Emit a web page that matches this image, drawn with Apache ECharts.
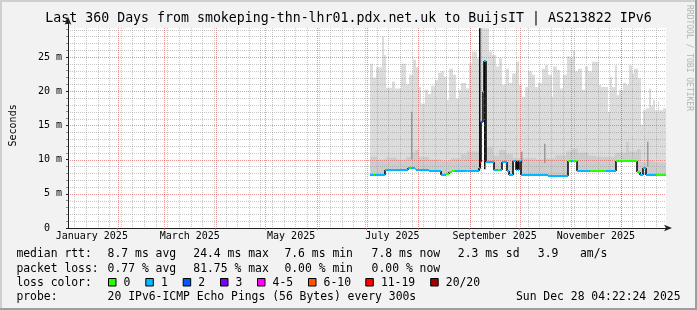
<!DOCTYPE html>
<html><head><meta charset="utf-8">
<script src="https://cdn.jsdelivr.net/npm/echarts@6/dist/echarts.min.js"></script>
<style>html,body{margin:0;padding:0;background:#f2f2f2}#c{width:697px;height:310px}</style>
</head><body><div id="c"></div>
<script>
// ---------------- data (x = days since Thu Jan 02 2025 04:22:24) ----------------
const START = Date.UTC(2025,0,2,4,22,24);
const DATA_END = 360;
const Y_TOP = 29.24;             // top of the graph canvas in ms
const labelNames = ['January 2025','March 2025','May 2025','July 2025','September 2025','November 2025'];
const labelMonth = [1,3,5,7,9,11];
const yTickMs = [0,5,10,15,20,25];

// light smoke (max of pings) : step segments
const smokeDay = [181.8,183.6,185.4,189.0,190.2,191.4,195.0,196.8,200.4,203.4,205.2,207.6,209.4,211.2,212.4,214.8,216.6,218.4,220.8,222.6,224.4,226.2,228.4,229.2,231.4,233.4,235.4,236.4,239.4,241.4,243.4,246.4,248.0,253.4,255.4,257.4,259.4,261.4,263.4,265.4,267.4,269.4,271.2,273.2,275.2,277.2,279.2,281.2,283.2,285.2,287.2,289.2,291.2,292.2,294.2,296.2,298.2,300.2,302.2,304.2,305.2,307.2,309.2,311.2,313.2,315.2,319.6,321.0,325.0,326.0,327.6,329.0,330.4,332.0,334.0,336.0,338.0,339.6,341.0,343.0,345.0,346.0,348.0,350.0,351.0,352.0,353.6,355.0,356.0,358.0];
const smokeTop = [24.0,22.0,23.5,28.0,25.3,20.5,21.4,20.4,24.0,21.0,22.4,24.6,23.5,20.6,18.2,20.2,19.6,20.8,21.6,22.7,22.9,22.1,18.7,23.3,22.4,18.9,20.2,21.2,20.4,24.1,25.8,24.8,29.2,25.8,25.3,23.6,24.8,20.9,23.3,21.2,22.6,24.3,20.9,19.2,20.6,22.9,22.4,20.6,21.2,23.3,23.8,22.4,19.2,23.6,23.1,20.4,22.4,25.1,24.8,26.0,22.9,23.3,20.2,23.6,22.9,24.3,20.9,20.6,17.0,22.1,20.6,23.8,19.4,20.2,21.2,20.9,23.8,22.6,23.3,21.9,15.1,17.2,17.5,20.4,17.9,18.7,17.2,18.5,17.2,17.5];

// denser smoke near the median
const darkDay = [181.8,186.0,191.4,198.0,203.4,206.4,208.8,211.2,217.2,224.4,230.4,236.4,240.0,247.2,252.0,255.6,259.2,263.4,267.6,272.4,273.6,282.0,287.4,293.4,300.0,303.6,307.2,313.2,318.0,329.4,336.0,337.8,342.6,345.0,349.8,352.8];
const darkTop = [10.4,10.0,10.3,10.0,10.4,11.0,11.4,10.4,10.0,9.8,10.2,10.8,11.2,11.6,11.8,10.6,11.4,10.8,10.2,10.8,10.2,10.0,10.2,10.6,11.2,11.6,11.0,10.6,10.4,11.0,12.6,11.2,11.5,9.6,9.8,9.6];

// single-column smoke spikes
const greySpikeDay = [207.3,273.3,287.4,348.9];
const greySpikeLow = [10.0,9.5,9.5,9.0];
const greySpikeHigh = [17.0,11.2,12.3,12.6];
const blackSpikeDay = [248.2,251.0];
const blackSpikeLow = [8.6,8.6];
const blackSpikeHigh = [29.2,24.4];

// median rtt (ms) with loss bucket index
const medianDay = [181.8,184.2,185.1,190.6,204.6,205.8,206.7,208.8,209.7,217.6,224.6,227.4,229.2,231.0,232.8,240.0,240.9,247.4,248.1,248.7,249.9,250.6,251.6,256.4,258.6,259.8,261.4,264.4,265.4,268.0,269.4,270.0,270.8,271.6,272.8,289.2,301.2,303.0,304.2,306.2,314.4,324.0,329.6,342.4,344.4,346.0,348.0,354.0];
const medianMs = [7.75,7.75,7.75,8.55,8.75,8.75,8.75,8.6,8.55,8.4,7.75,7.95,8.15,8.4,8.4,8.4,8.4,8.7,9.6,15.5,19.9,24.4,9.7,8.45,8.45,8.45,9.7,8.3,7.7,9.85,8.45,9.75,8.45,9.8,7.75,7.6,9.8,9.8,9.8,8.4,8.4,8.4,9.8,8.2,7.75,8.8,7.75,7.75];
const medianLoss = [1,0,1,1,1,0,1,0,1,1,1,0,0,0,1,0,1,4,6,2,1,1,1,1,0,1,1,1,1,1,1,1,1,1,1,1,0,1,0,1,0,1,0,0,1,1,1,0];

const lossColors = ['#26ff00','#00b8ff','#0059ff','#7e00ff','#ff00ff','#ff5500','#ff0000','#a10000'];
const lossLabels = ['0','1','2','3','4-5','6-10','11-19','20/20'];

// ---------------- derived ----------------
function dayOf(y,m,d){ return (Date.UTC(y,m-1,d) - START)/86400000; }
const monthStarts = [];
for (let m=2;m<=12;m++) monthStarts.push(dayOf(2025,m,1));
const weekDays = [];
for (let d=dayOf(2025,1,6); d<DATA_END; d+=7) weekDays.push(d);
const labelDays = labelMonth.map(m => (dayOf(2025,m,1)+dayOf(2025,m+1,1))/2);
// all grid lines in one list: [x0, x1, y0, y1, major?]; minors first, majors last
const gridLines = [];
for (let v=1; v<Y_TOP; v++) if (v % 5 !== 0) gridLines.push([0, DATA_END, v, v, 0]);
weekDays.forEach(d => gridLines.push([d, d, 0, Y_TOP, 0]));
for (let v=5; v<Y_TOP; v+=5) gridLines.push([0, DATA_END, v, v, 1]);
monthStarts.forEach(d => gridLines.push([d, d, 0, Y_TOP, 1]));

function stepAt(days, vals, d){ let v = vals[0]; for (let i=0;i<days.length;i++){ if (days[i] <= d) v = vals[i]; else break; } return v; }
function layer(days, tops){
  const set = new Set(days.concat(medianDay).filter(d => d >= days[0]));
  set.add(DATA_END);
  const bps = Array.from(set).sort((a,b)=>a-b);
  const out = [];
  for (let i=0;i<bps.length-1;i++){
    const a=bps[i], b=bps[i+1], mid=(a+b)/2;
    const lo = stepAt(medianDay, medianMs, mid), hi = stepAt(days, tops, mid);
    if (hi > lo) out.push([a,b,lo,hi]);
  }
  return out;
}
const lightData = layer(smokeDay, smokeTop);
const darkData = layer(darkDay, darkTop);
const medSegData = medianDay.map((d,i) => [d, i<medianDay.length-1 ? medianDay[i+1] : DATA_END, medianMs[i], medianLoss[i]]);
const medStepData = medianDay.slice(1).map((d,i) => [d, medianMs[i], medianMs[i+1]]);

const FONT = "'DejaVu Sans Mono', monospace";
const GRID_COL = ['rgba(143,143,143,0.5)', 'rgba(222,79,79,0.6)'];

function rectRender(color){
  return function(params, api){
    const p0 = api.coord([api.value(0), api.value(3)]);
    const p1 = api.coord([api.value(1), api.value(2)]);
    const x0 = Math.round(p0[0]), x1 = Math.round(p1[0]);
    return {type:'rect', shape:{x:x0, y:p0[1], width:Math.max(1,x1-x0), height:p1[1]-p0[1]}, style:{fill:color}};
  };
}
function spikeRender(color){
  return function(params, api){
    const p0 = api.coord([api.value(0), api.value(2)]);
    const p1 = api.coord([api.value(0), api.value(1)]);
    const x = Math.round(p0[0]);
    return {type:'rect', shape:{x:x-1, y:p0[1], width:1.5, height:p1[1]-p0[1]}, style:{fill:color}};
  };
}
// dotted grid drawn as a 1px-thick rect filled with a dot pattern
function dotPattern(color, horizontal){
  const c = document.createElement('canvas');
  c.width = horizontal ? 2 : 1; c.height = horizontal ? 1 : 2;
  const g = c.getContext('2d'); g.fillStyle = color; g.fillRect(0,0,1,1);
  return {image:c, repeat:'repeat'};
}
const PAT_H = [dotPattern(GRID_COL[0], true), dotPattern(GRID_COL[1], true)];
const PAT_V = [dotPattern(GRID_COL[0], false), dotPattern(GRID_COL[1], false)];
function gridRender(params, api){
  const p0 = api.coord([api.value(0), api.value(2)]);
  const p1 = api.coord([api.value(1), api.value(3)]);
  const major = api.value(4) ? 1 : 0;
  if (api.value(2) === api.value(3)) {
    const y = Math.round(p0[1]);
    const x0 = Math.round(p0[0]), x1 = Math.round(p1[0]);
    return {type:'rect', shape:{x:x0, y:y, width:x1-x0, height:1}, style:{fill:PAT_H[major]}};
  }
  const x = Math.round(p0[0]);
  const y0 = Math.round(p1[1]), y1 = Math.round(p0[1]);
  return {type:'rect', shape:{x:x, y:y0, width:1, height:y1-y0}, style:{fill:PAT_V[major]}};
}

const chart = echarts.init(document.getElementById('c'), null, {renderer:'canvas'});

// legend block (text)
const legend = [];
function txt(x, y, s, extra){ legend.push(Object.assign({type:'text', x:x, y:y, silent:true, style:{text:s, font:'11.4px '+FONT, fill:'#000', verticalAlign:'middle', align:'left'}}, extra||{})); }
const L1=254.5, L2=268.7, L3=282.7, L4=296.8;
txt(16.4,L1,'median rtt:'); txt(107.6,L1,'8.7 ms avg'); txt(193.3,L1,'24.4 ms max'); txt(284.4,L1,'7.6 ms min'); txt(371.6,L1,'7.8 ms now'); txt(457.8,L1,'2.3 ms sd'); txt(537.8,L1,'3.9'); txt(580,L1,'am/s');
txt(16.4,L2,'packet loss:'); txt(107.6,L2,'0.77 % avg'); txt(193.3,L2,'81.75 % max'); txt(284.4,L2,'0.00 % min'); txt(371.6,L2,'0.00 % now');
txt(16.4,L3,'loss color:');
const swX = [108,145.3,182.7,220,257,308,365.3,430.2];
lossLabels.forEach((lab,i) => {
  legend.push({type:'rect', silent:true, shape:{x:swX[i]+0.5, y:278.5, width:7.5, height:7.5}, style:{fill:lossColors[i], stroke:'#000', lineWidth:1}});
  txt(swX[i]+15.6, L3, lab);
});
txt(16.4,L4,'probe:'); txt(107.6,L4,'20 IPv6-ICMP Echo Pings (56 Bytes) every 300s');
legend.push({type:'text', x:680.5, y:L4, silent:true, style:{text:'Sun Dec 28 04:22:24 2025', font:'11.4px '+FONT, fill:'#000', verticalAlign:'middle', align:'right'}});
// frame + watermark
legend.push({type:'rect', silent:true, z:-1, shape:{x:0,y:0,width:697,height:2}, style:{fill:'#cfcfcf'}});
legend.push({type:'rect', silent:true, z:-1, shape:{x:0,y:0,width:2,height:310}, style:{fill:'#cfcfcf'}});
legend.push({type:'rect', silent:true, z:-1, shape:{x:0,y:308,width:697,height:2}, style:{fill:'#9e9e9e'}});
legend.push({type:'rect', silent:true, z:-1, shape:{x:695,y:0,width:2,height:310}, style:{fill:'#9e9e9e'}});
legend.push({type:'text', x:689.5, y:58, rotation:-Math.PI/2, silent:true, style:{text:'RRDTOOL / TOBI OETIKER', font:'8px '+FONT, fill:'#b4b4b4', align:'center', verticalAlign:'middle'}});

const option = {
  animation:false,
  backgroundColor:'#f2f2f2',
  title:{text:'Last 360 Days from smokeping-thn-lhr01.pdx.net.uk to BuijsIT | AS213822 IPv6', left:'center', top:7,
    textStyle:{fontFamily:FONT, fontSize:13.25, fontWeight:'normal', color:'#000'}},
  grid:{left:66, top:22.8, width:600, height:205.2, show:false},
  xAxis:{type:'value', min:0, max:360, z:7,
    axisLine:{show:true, lineStyle:{color:'#1f1f1f', width:1}, symbol:['none','arrow'], symbolSize:[5,8], symbolOffset:[0,6]},
    axisTick:{show:true, customValues:monthStarts, length:2, lineStyle:{color:'rgba(222,79,79,0.7)'}},
    axisLabel:{customValues:labelDays, margin:3, fontFamily:FONT, fontSize:10, color:'#000',
      formatter:function(v){ let k=0; labelDays.forEach((d,i)=>{ if (Math.abs(d-v) < Math.abs(labelDays[k]-v)) k=i; }); return labelNames[k]; }},
    splitLine:{show:false}},
  yAxis:{type:'value', min:0, max:30, interval:5, z:7,
    name:'Seconds', nameLocation:'middle', nameRotate:90, nameGap:50,
    nameTextStyle:{fontFamily:FONT, fontSize:10, color:'#000'},
    axisLine:{show:true, lineStyle:{color:'#1f1f1f', width:1}, symbol:['none','arrow'], symbolSize:[5,8], symbolOffset:[0,6]},
    axisTick:{show:true, length:2, lineStyle:{color:'#1f1f1f'}},
    minorTick:{show:true, splitNumber:5, length:2, lineStyle:{color:'#8f8f8f'}},
    axisLabel:{margin:6, fontFamily:FONT, fontSize:10, color:'#000', showMaxLabel:false,
      formatter:function(v){ return yTickMs.indexOf(v) < 0 ? '' : (v === 0 ? '0  ' : v + ' m'); }},
    splitLine:{show:false}, minorSplitLine:{show:false}},
  graphic:legend,
  series:[
    {type:'custom', z:1, clip:true, silent:true, data:[[0,360,0,Y_TOP]], encode:{x:[0,1], y:[2,3]}, renderItem:rectRender('#ffffff')},
    {type:'custom', z:2, clip:true, silent:true, data:lightData, encode:{x:[0,1], y:[2,3]}, renderItem:rectRender('#dcdcdc')},
    {type:'custom', z:2, clip:true, silent:true, data:darkData, encode:{x:[0,1], y:[2,3]}, renderItem:rectRender('#cccccc')},
    {type:'custom', z:2, clip:true, silent:true, data:greySpikeDay.map((d,i)=>[d,greySpikeLow[i],greySpikeHigh[i]]), encode:{x:0, y:[1,2]}, renderItem:spikeRender('#9a9a9a')},
    {type:'custom', z:2, clip:true, silent:true, data:blackSpikeDay.map((d,i)=>[d,blackSpikeLow[i],blackSpikeHigh[i]]), encode:{x:0, y:[1,2]}, renderItem:spikeRender('#111111')},
    {type:'custom', z:3, clip:false, silent:true, data:gridLines, encode:{x:[0,1], y:[2,3]}, renderItem:gridRender},
    {type:'custom', z:5, clip:true, silent:true, data:medStepData, encode:{x:0, y:[1,2]},
      renderItem:function(params, api){
        const p0 = api.coord([api.value(0), api.value(1)]), p1 = api.coord([api.value(0), api.value(2)]);
        const x = Math.round(p0[0]);
        return {type:'line', shape:{x1:x, y1:Math.round(p0[1]), x2:x, y2:Math.round(p1[1])}, style:{stroke:'#000', lineWidth:1.5}};
      }},
    {type:'custom', z:6, clip:true, silent:true, data:medSegData, encode:{x:[0,1], y:2},
      renderItem:function(params, api){
        const p0 = api.coord([api.value(0), api.value(2)]), p1 = api.coord([api.value(1), api.value(2)]);
        const y = Math.round(p0[1]);
        return {type:'line', shape:{x1:Math.round(p0[0]), y1:y, x2:Math.round(p1[0]), y2:y}, style:{stroke:lossColors[api.value(3)], lineWidth:2}};
      }}
  ]
};
chart.setOption(option);
</script>
</body></html>
